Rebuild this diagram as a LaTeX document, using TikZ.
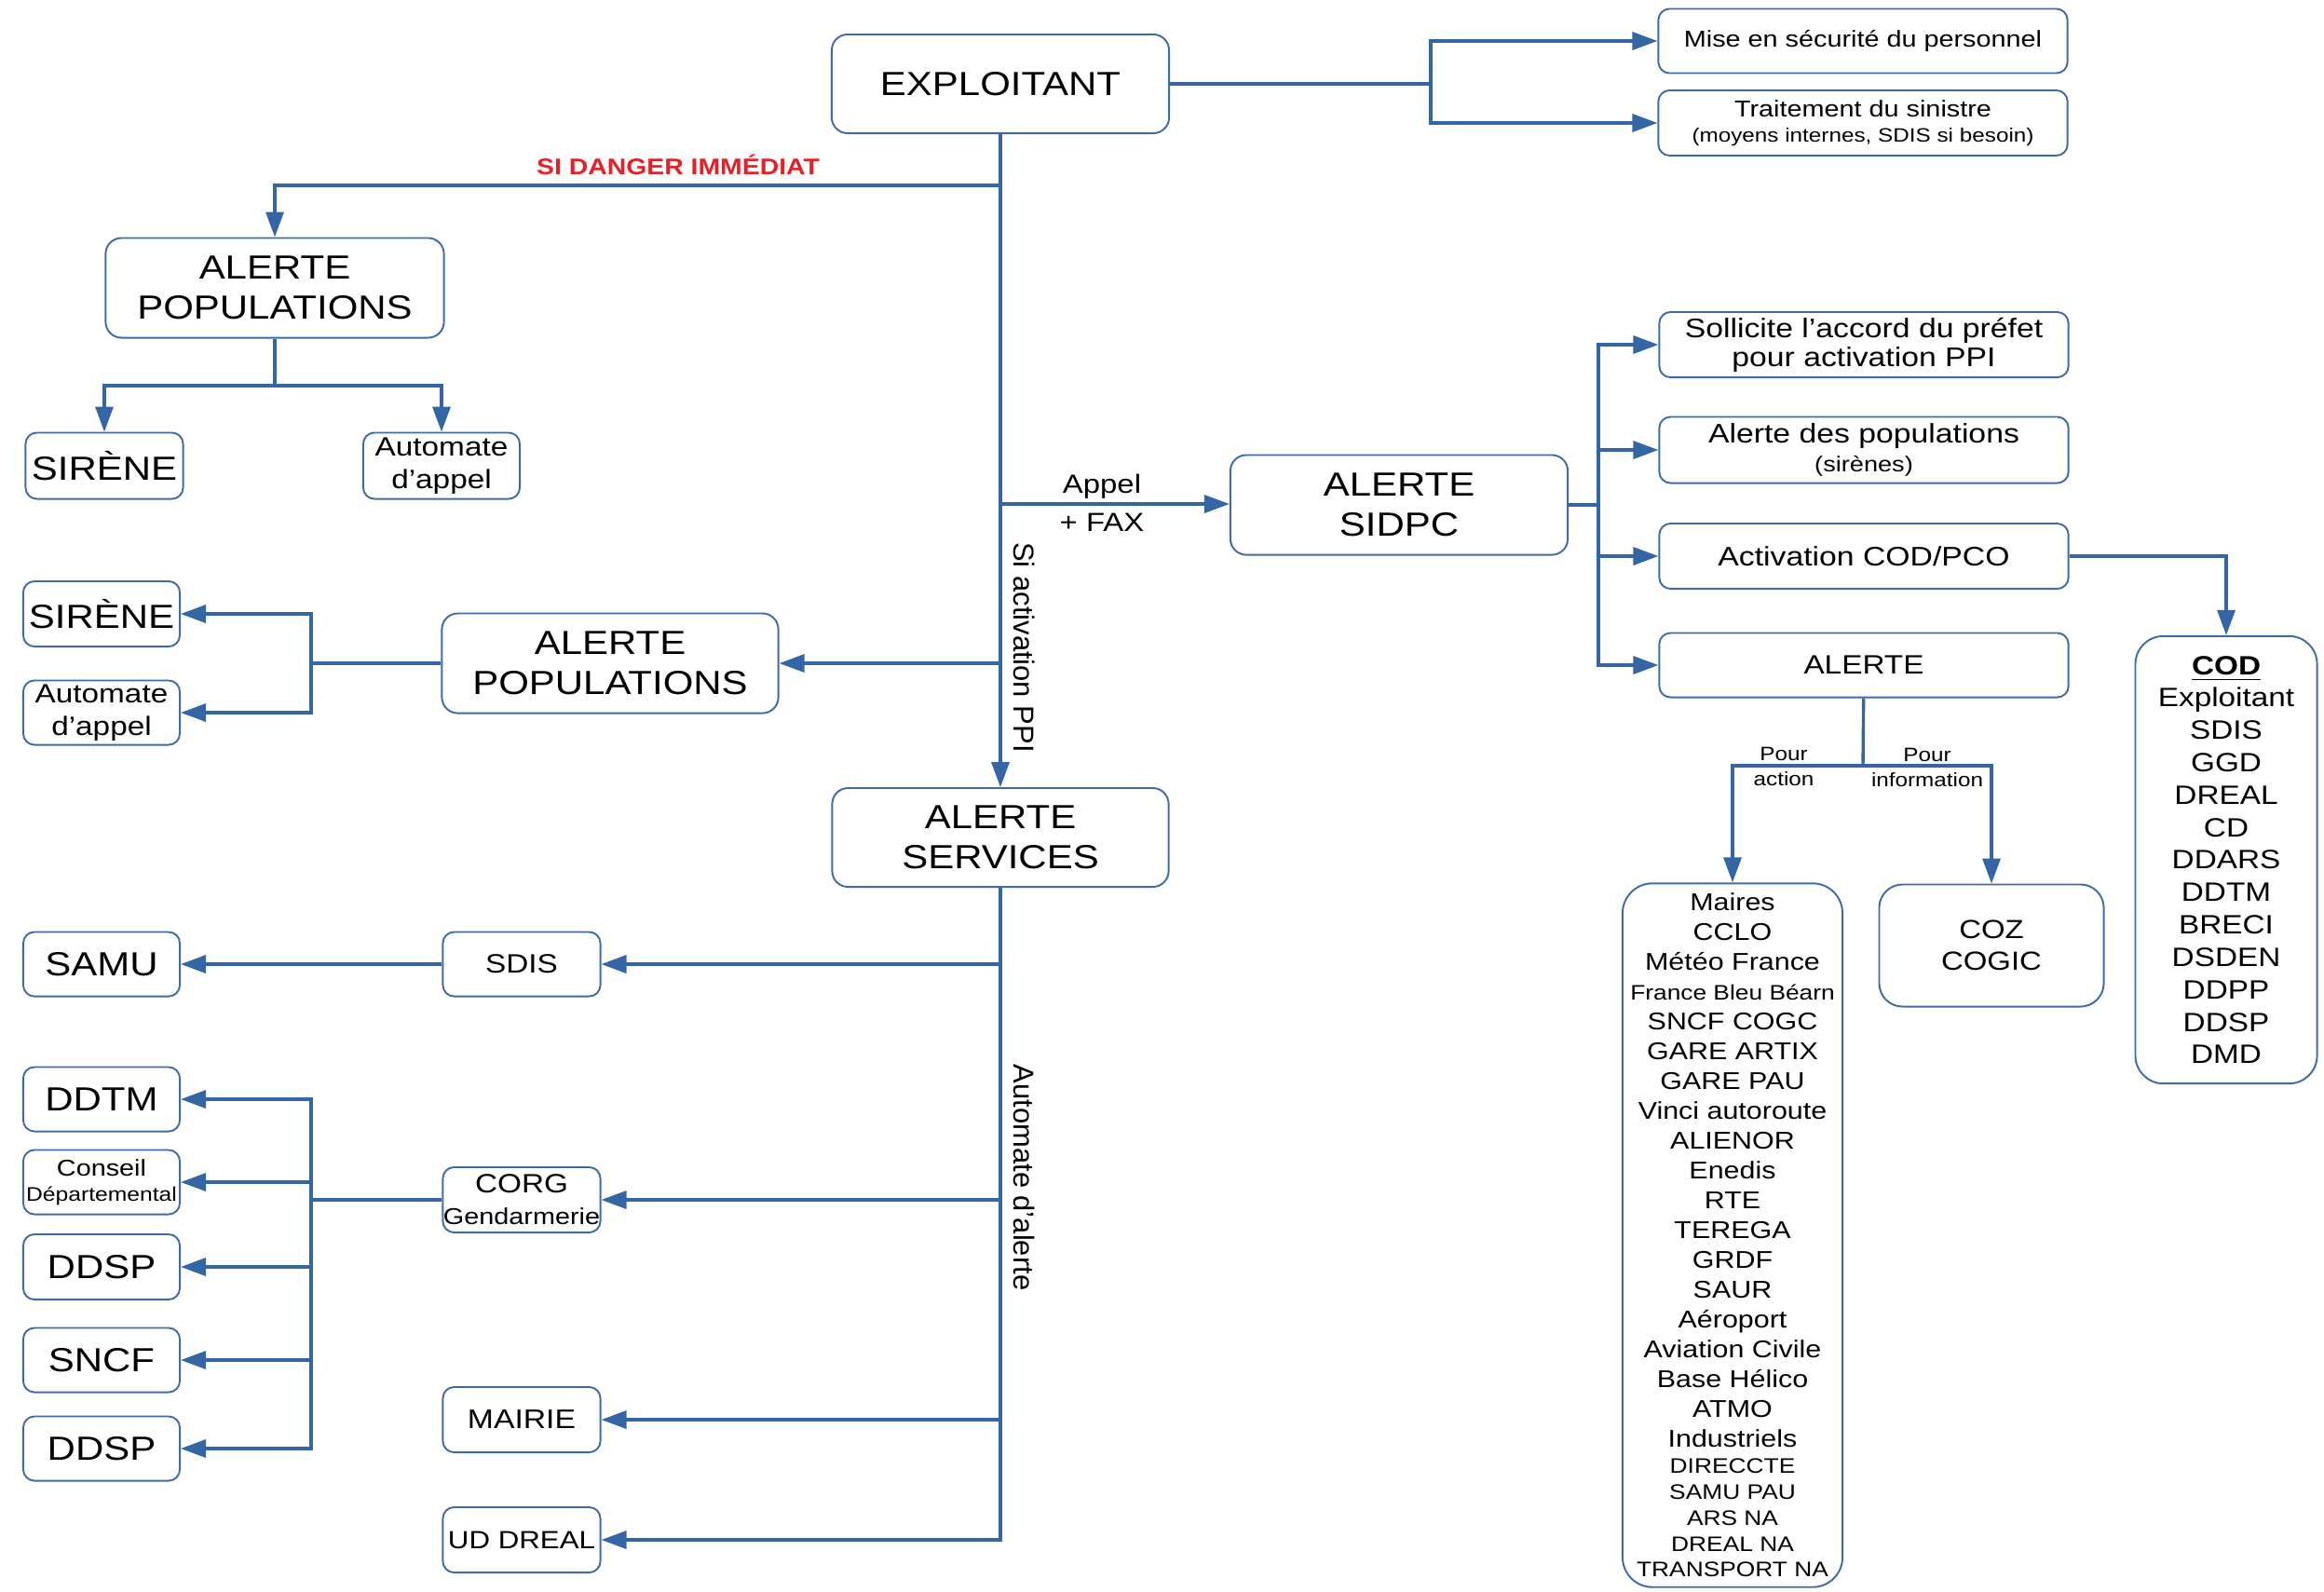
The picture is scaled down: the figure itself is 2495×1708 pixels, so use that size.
\documentclass[tikz,border=0pt]{standalone}
\usepackage{fontspec}
\setmainfont{Liberation Sans}[FakeStretch=1.17]
\newfontfamily\rotfont{Liberation Sans}
\usetikzlibrary{arrows.meta}
\definecolor{lineblue}{RGB}{52,101,164}
\definecolor{boxblue}{RGB}{66,106,168}
\definecolor{dangerred}{RGB}{228,32,40}
\newcommand{\fsz}[2]{\fontsize{#1}{#2}\selectfont}
\tikzset{
  nbox/.style={draw=boxblue, line width=0.55pt, rounded corners=0.12cm, fill=white, align=center, inner sep=0pt},
  mainbox/.style={nbox, rounded corners=0.17cm, minimum width=3.62cm, minimum height=1.06cm, font=\fsz{10.2}{12.3}},
  leaf/.style={nbox, minimum width=1.69cm, minimum height=0.70cm, font=\fsz{10.2}{12.3}},
  wide/.style={nbox, minimum width=4.39cm, minimum height=0.70cm, font=\fsz{8.2}{8.8}},
  link/.style={draw=lineblue, line width=0.95pt},
  arr/.style={link, -{Triangle[length=0.27cm,width=0.19cm]}},
  lbl/.style={inner sep=0pt, align=center, font=\fsz{8}{9.6}},
  rotlbl/.style={inner sep=0pt, rotate=-90, font=\rotfont\fsz{8.8}{10}},
}
\begin{document}
\begin{tikzpicture}[x=0.01cm, y=-0.01cm]
\useasboundingbox (0,0) rectangle (2495,1708);
% exploitant
\node[mainbox] (exploitant) at (1074,90) {EXPLOITANT};
\node[wide, minimum height=0.69cm, font=\fsz{7}{8.4}] (securite) at (2000,44) {Mise en sécurité du personnel};
\node[wide, font=\fsz{7}{7.7}] (sinistre) at (2000,132) {Traitement du sinistre\\\fsz{5.9}{7.7}(moyens internes, SDIS si besoin)};
\coordinate (forkExpl) at (1536,90);
\draw[link] (exploitant) -- (forkExpl);
\draw[arr] (forkExpl) |- (securite);
\draw[arr] (forkExpl) |- (sinistre);

% danger immediat
\node[mainbox, minimum width=3.63cm, minimum height=1.07cm] (popHaut) at (295,309) {ALERTE\\POPULATIONS};
\node[leaf, minimum height=0.71cm] (sireneHaut) at (112,500) {SIRÈNE};
\node[leaf, minimum width=1.68cm, minimum height=0.71cm, font=\fsz{8.1}{10}] (automateHaut) at (474,500) {Automate\\d’appel};
\coordinate (danger) at (1074,199);
\draw[arr] (danger) -| (popHaut);
\node[inner sep=0pt, text=dangerred, font=\bfseries\fsz{6.9}{8}] (dangerTxt) at (728,177) {SI DANGER IMMÉDIAT};
\coordinate (forkPopHaut) at (295,414);
\draw[link] (popHaut) -- (forkPopHaut);
\draw[arr] (forkPopHaut) -| (sireneHaut);
\draw[arr] (forkPopHaut) -| (automateHaut);

% sidpc
\node[mainbox, minimum height=1.07cm] (sidpc) at (1502,542) {ALERTE\\SIDPC};
\coordinate (appel) at (1074,541);
\draw[arr] (appel) -- (appel -| sidpc.west);
\node[lbl] (appelTxt) at (1183,522) {Appel};
\node[lbl] (faxTxt) at (1183,561) {+ FAX};
\node[wide] (prefet) at (2001,370) {Sollicite l’accord du préfet\\pour activation PPI};
\node[wide, minimum height=0.71cm, font=\fsz{8.2}{9}] (alertePop) at (2001,483) {Alerte des populations\\\fsz{6.6}{9}(sirènes)};
\node[wide] (activation) at (2001,597) {Activation COD/PCO};
\node[wide, minimum height=0.69cm, font=\fsz{8.1}{9}] (alerteSidpc) at (2001,714) {ALERTE};
\coordinate (forkSidpc) at (1716,542);
\draw[link] (sidpc) -- (forkSidpc);
\foreach \n in {prefet,alertePop,activation,alerteSidpc}
  \draw[arr] (forkSidpc) |- (\n);

\node[nbox, rounded corners=0.3cm, minimum width=1.95cm, minimum height=4.80cm, font=\fsz{8.1}{9.9}] (cod) at (2390,923)
  {\textbf{\underline{COD}}\\Exploitant\\SDIS\\GGD\\DREAL\\CD\\DDARS\\DDTM\\BRECI\\DSDEN\\DDPP\\DDSP\\DMD};
\draw[arr] (activation) -| (cod);

\node[nbox, rounded corners=0.32cm, minimum width=2.36cm, minimum height=7.55cm, font=\fsz{7.4}{9.1}] (maires) at (1860,1326)
  {Maires\\CCLO\\Météo France\\\fsz{6.4}{9}France Bleu Béarn\\SNCF COGC\\GARE ARTIX\\GARE PAU\\Vinci autoroute\\ALIENOR\\Enedis\\RTE\\TEREGA\\GRDF\\SAUR\\Aéroport\\Aviation Civile\\Base Hélico\\ATMO\\Industriels\\[-1.2pt]
   \fsz{6.4}{7.9}DIRECCTE\\[-1.2pt]\fsz{6.4}{7.9}SAMU PAU\\[-1.2pt]\fsz{6.4}{7.9}ARS NA\\[-1.2pt]\fsz{6.4}{7.9}DREAL NA\\[-1.2pt]\fsz{6.4}{7.9}TRANSPORT NA};
\node[nbox, rounded corners=0.25cm, minimum width=2.41cm, minimum height=1.31cm, font=\fsz{8}{9.7}] (coz) at (2138,1015) {COZ\\COGIC};
\coordinate (forkAlerte) at (2000,822);
\draw[link] (alerteSidpc) -- (forkAlerte);
\draw[arr] (forkAlerte) -| (maires);
\draw[arr] (forkAlerte) -| (coz);
\node[lbl, font=\fsz{5.9}{7.7}] (actionTxt) at (1915,823) {Pour\\action};
\node[lbl, font=\fsz{5.9}{7.7}] (infoTxt) at (2069,824) {Pour\\information};

% activation PPI
\node[rotlbl] (ppiTxt) at (1100,695) {Si activation PPI};
\node[mainbox, minimum width=3.61cm, minimum height=1.07cm] (popBas) at (655,712) {ALERTE\\POPULATIONS};
\node[leaf, minimum width=1.68cm] (sireneBas) at (109,659) {SIRÈNE};
\node[leaf, minimum width=1.68cm, minimum height=0.69cm, font=\fsz{8.1}{10}] (automateBas) at (109,765) {Automate\\d’appel};
\coordinate (popPPI) at (1074,712);
\draw[arr] (popPPI) -- (popBas);
\coordinate (forkPopBas) at (334,712);
\draw[link] (popBas) -- (forkPopBas);
\draw[arr] (forkPopBas) |- (sireneBas);
\draw[arr] (forkPopBas) |- (automateBas);

% services
\node[mainbox, minimum width=3.61cm] (services) at (1074,899) {ALERTE\\SERVICES};
\draw[arr] (exploitant) -- (services);
\node[rotlbl] (automateTxt) at (1100,1264) {Automate d’alerte};
\node[leaf, minimum height=0.69cm, font=\fsz{8.1}{9}] (sdis) at (560,1035) {SDIS};
\node[leaf, minimum width=1.68cm, minimum height=0.69cm] (samu) at (109,1035) {SAMU};
\node[leaf, font=\fsz{8.1}{9.6}] (corg) at (560,1288) {CORG\\\fsz{7}{9.6}Gendarmerie};
\node[leaf, font=\fsz{8.2}{9}] (mairie) at (560,1524) {MAIRIE};
\node[leaf, font=\fsz{7.6}{9}] (udDreal) at (560,1653) {UD DREAL};
\node[leaf, minimum width=1.68cm, minimum height=0.69cm] (ddtm) at (109,1180) {DDTM};
\node[leaf, minimum width=1.68cm, minimum height=0.69cm, font=\fsz{7}{7.7}] (conseil) at (109,1269) {Conseil\\\fsz{6}{7.7}Départemental};
\node[leaf, minimum width=1.68cm] (ddspA) at (109,1360) {DDSP};
\node[leaf, minimum width=1.68cm, minimum height=0.69cm] (sncf) at (109,1460) {SNCF};
\node[leaf, minimum width=1.68cm, minimum height=0.69cm] (ddspB) at (109,1555) {DDSP};
\draw[arr] (services) |- (udDreal);
\foreach \n in {sdis,corg,mairie}
  \draw[arr] (services.south |- \n) -- (\n);
\draw[arr] (sdis) -- (samu);
\coordinate (forkCorg) at (334,1288);
\draw[link] (corg) -- (forkCorg);
\foreach \n in {ddtm,conseil,ddspA,sncf,ddspB}
  \draw[arr] (forkCorg) |- (\n);
\end{tikzpicture}
\end{document}
